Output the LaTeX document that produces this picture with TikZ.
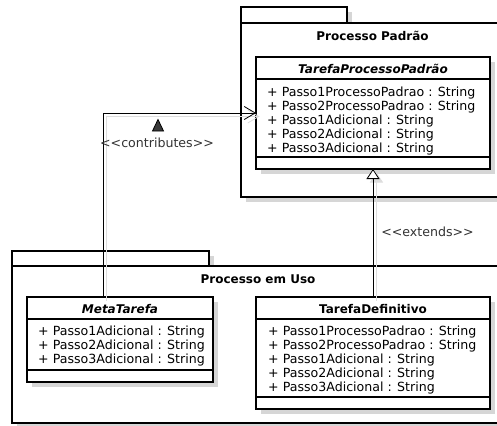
\documentclass[tikz,border=0pt]{standalone}
\usepackage{fontspec}
\setmainfont{DejaVu Sans}
\usetikzlibrary{arrows.meta,shadows}
\definecolor{shade}{HTML}{D6D6D6}
\definecolor{lineshade}{HTML}{DDDDDD}
\definecolor{labelgray}{HTML}{333333}
\definecolor{dirfill}{HTML}{3A3A3A}
\begin{document}
\begin{tikzpicture}[x=1pt,y=-1pt,
  font=\fontsize{12.6}{14}\selectfont,
  boxshadow/.style={general shadow={fill=shade, shadow xshift=5pt, shadow yshift=-5pt}},
  pkgbox/.style={draw=black, line width=1.8pt, fill=white, boxshadow,
    inner sep=0pt, outer sep=0pt, anchor=north west},
  classbox/.style={draw=black, line width=1.8pt, fill=white, boxshadow,
    inner sep=0pt, outer sep=0pt, anchor=north west},
  sepline/.style={draw=black, line width=1.4pt},
  pkgtitle/.style={font=\fontsize{12}{14}\selectfont\bfseries, anchor=base, inner sep=0pt},
  classtitle/.style={font=\fontsize{12}{14}\selectfont\bfseries, anchor=base, inner sep=0pt},
  attr/.style={anchor=base west, inner sep=0pt},
  stereo/.style={text=labelgray, anchor=base, inner sep=0pt},
  conn/.style={draw=black, line width=0.8pt},
  connshade/.style={draw=lineshade, line width=0.8pt, transform canvas={xshift=3.5pt,yshift=-3.5pt}},
]
\useasboundingbox (0,0) rectangle (497,425);
\fill[white] (0,0) rectangle (497,425);
\clip (0,0) rectangle (497,425);

% package: Processo Padrao
\node[pkgbox, minimum width=106pt, minimum height=16pt] (padraotab) at (241,7) {};
\node[pkgbox, minimum width=263pt, minimum height=174pt] (padrao) at (241,23) {};
\node[pkgtitle] (padraolabel) at ([yshift=-17.5pt]padrao.north) {Processo Padrão};

% package: Processo em Uso
\node[pkgbox, minimum width=197pt, minimum height=15pt] (usotab) at (12,251) {};
\node[pkgbox, minimum width=492pt, minimum height=157pt] (uso) at (12,266) {};
\node[pkgtitle] (usolabel) at ([yshift=-17.5pt]uso.north) {Processo em Uso};

% class TarefaProcessoPadrao
\node[classbox, minimum width=234pt, minimum height=112pt] (tpp) at (256,57) {};
\draw[sepline] ([yshift=-22pt]tpp.north west) -- ([yshift=-22pt]tpp.north east);
\draw[sepline] ([yshift=12pt]tpp.south west) -- ([yshift=12pt]tpp.south east);
\node[classtitle, font=\fontsize{12}{14}\selectfont\bfseries\itshape] (tpptitle)
  at ([yshift=-16.5pt]tpp.north) {TarefaProcessoPadrão};
\foreach \t [count=\i] in {+ Passo1ProcessoPadrao : String, + Passo2ProcessoPadrao : String,
    + Passo1Adicional : String, + Passo2Adicional : String, + Passo3Adicional : String}
  \node[attr] (tppattr\i) at ([xshift=11pt,yshift={-(39.5+14*(\i-1))*1pt}]tpp.north west) {\t};

% class MetaTarefa
\node[classbox, minimum width=186pt, minimum height=85pt] (meta) at (27,297) {};
\draw[sepline] ([yshift=-22pt]meta.north west) -- ([yshift=-22pt]meta.north east);
\draw[sepline] ([yshift=12pt]meta.south west) -- ([yshift=12pt]meta.south east);
\node[classtitle, font=\fontsize{12}{14}\selectfont\bfseries\itshape] (metatitle)
  at ([yshift=-16.5pt]meta.north) {MetaTarefa};
\foreach \t [count=\i] in {+ Passo1Adicional : String, + Passo2Adicional : String,
    + Passo3Adicional : String}
  \node[attr] (metaattr\i) at ([xshift=11pt,yshift={-(38.5+14*(\i-1))*1pt}]meta.north west) {\t};

% class TarefaDefinitivo
\node[classbox, minimum width=234pt, minimum height=112pt] (tdef) at (256,297) {};
\draw[sepline] ([yshift=-22pt]tdef.north west) -- ([yshift=-22pt]tdef.north east);
\draw[sepline] ([yshift=12pt]tdef.south west) -- ([yshift=12pt]tdef.south east);
\node[classtitle] (tdeftitle) at ([yshift=-16.5pt]tdef.north) {TarefaDefinitivo};
\foreach \t [count=\i] in {+ Passo1ProcessoPadrao : String, + Passo2ProcessoPadrao : String,
    + Passo1Adicional : String, + Passo2Adicional : String, + Passo3Adicional : String}
  \node[attr] (tdefattr\i) at ([xshift=12pt,yshift={-(38.5+14*(\i-1))*1pt}]tdef.north west) {\t};

% contributes dependency
\coordinate (bend) at (103,113);
\draw[connshade, -{Straight Barb[length=11pt,width=13pt]}]
  (bend |- meta.north) -- (bend) -- (bend -| tpp.west);
\draw[conn, -{Straight Barb[length=11pt,width=13pt]}]
  (bend |- meta.north) -- (bend) -- (bend -| tpp.west);
\draw[draw=black, fill=dirfill, line width=0.8pt, line join=miter]
  (152.5,131) -- (158,119.5) -- (163.5,131) -- cycle;
\node[stereo] (contriblabel) at (157,147.5) {<\kern0pt<contributes>\kern0pt>};

% extends generalization
\draw[connshade, -{Triangle[length=10pt,width=13pt,fill=lineshade]}] (tdef.north) -- (tpp.south);
\draw[conn, -{Triangle[length=10pt,width=13pt,fill=white]}] (tdef.north) -- (tpp.south);
\node[stereo] (extendslabel) at (427.5,236.5) {<\kern0pt<extends>\kern0pt>};
\end{tikzpicture}
\end{document}
